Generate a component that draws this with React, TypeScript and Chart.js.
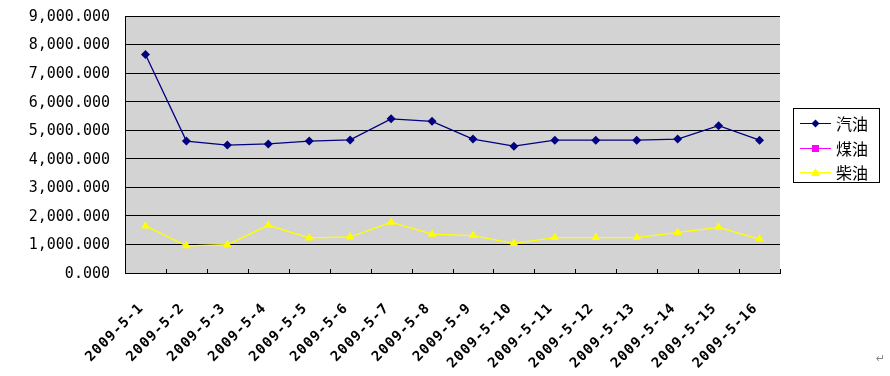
import React, { useEffect, useRef } from "react";
import { Chart, registerables } from "chart.js";

Chart.register(...registerables);

const categories = [
  "2009-5-1", "2009-5-2", "2009-5-3", "2009-5-4", "2009-5-5", "2009-5-6",
  "2009-5-7", "2009-5-8", "2009-5-9", "2009-5-10", "2009-5-11", "2009-5-12",
  "2009-5-13", "2009-5-14", "2009-5-15", "2009-5-16",
];
const gasoline = [7650, 4620, 4480, 4520, 4620, 4660, 5400, 5310, 4690, 4440, 4650, 4650, 4650, 4690, 5160, 4650];
const kerosene: (number | null)[] = [null, null, null, null, null, null, null, null, null, null, null, null, null, null, null, null];
const diesel = [1650, 950, 990, 1670, 1230, 1260, 1780, 1360, 1310, 1040, 1240, 1240, 1240, 1420, 1600, 1190];
const seriesNames = ["汽油", "煤油", "柴油"];
const yMin = 0;
const yMax = 9000;
const yStep = 1000;

const colors = ["#000080", "#FF00FF", "#FFFF00"];
const markers = ["rectRot", "rect", "triangle"];

const fmt = (v: number) =>
  v.toLocaleString("en-US", { minimumFractionDigits: 3, maximumFractionDigits: 3 });

const bgPlugin = {
  id: "plotBg",
  beforeDraw(chart: any) {
    const { ctx, chartArea } = chart;
    ctx.save();
    ctx.fillStyle = "#d3d3d3";
    ctx.fillRect(chartArea.left, chartArea.top, chartArea.right - chartArea.left, chartArea.bottom - chartArea.top);
    ctx.restore();
  },
  afterDraw(chart: any) {
    const { ctx, chartArea } = chart;
    const xs = chart.scales.x;
    const ys = chart.scales.y;
    const n = categories.length;
    const w = (chartArea.right - chartArea.left) / n;
    ctx.save();
    ctx.strokeStyle = "#000";
    ctx.lineWidth = 1;
    ctx.beginPath();
    for (let i = 1; i <= n; i++) {
      const x = Math.round(chartArea.left + i * w) + 0.5;
      ctx.moveTo(x, chartArea.bottom);
      ctx.lineTo(x, chartArea.bottom - 4);
    }
    ctx.stroke();

    // y labels
    ctx.fillStyle = "#000";
    ctx.font = '15px "DejaVu Sans Mono"';
    ctx.textAlign = "right";
    ctx.textBaseline = "middle";
    ys.ticks.forEach((t: any) => {
      const y = ys.getPixelForValue(t.value);
      ctx.fillText(fmt(t.value), 110, y + 1);
    });

    // x labels
    ctx.font = 'bold 14px "DejaVu Sans Mono"';
    try { (ctx as any).letterSpacing = "1px"; } catch (e) {}
    categories.forEach((lab, i) => {
      const px = xs.getPixelForValue(i);
      ctx.save();
      ctx.translate(px - 4, 306);
      ctx.rotate(-Math.PI / 4);
      ctx.textAlign = "right";
      ctx.textBaseline = "middle";
      ctx.fillText(lab, 0, 0);
      ctx.restore();
    });
    try { (ctx as any).letterSpacing = "0px"; } catch (e) {}

    // legend
    const bx = 793.5, by = 108.5, bw = 86, bh = 74;
    ctx.fillStyle = "#fff";
    ctx.fillRect(bx, by, bw, bh);
    ctx.strokeStyle = "#000";
    ctx.strokeRect(bx, by, bw, bh);
    const rows = [123, 148, 172];
    seriesNames.forEach((name, i) => {
      const y = rows[i];
      ctx.strokeStyle = colors[i];
      ctx.lineWidth = 1;
      ctx.beginPath();
      ctx.moveTo(800, y + 0.5);
      ctx.lineTo(831, y + 0.5);
      ctx.stroke();
      ctx.fillStyle = colors[i];
      ctx.beginPath();
      const cx = 815.5, cy = y + 0.5;
      if (i === 0) {
        ctx.moveTo(cx, cy - 4);
        ctx.lineTo(cx + 4, cy);
        ctx.lineTo(cx, cy + 4);
        ctx.lineTo(cx - 4, cy);
      } else if (i === 1) {
        ctx.rect(cx - 3.5, cy - 3.5, 7, 7);
      } else {
        ctx.moveTo(cx, cy - 4.5);
        ctx.lineTo(cx + 4.5, cy + 3.5);
        ctx.lineTo(cx - 4.5, cy + 3.5);
      }
      ctx.closePath();
      ctx.fill();
      ctx.fillStyle = "#000";
      ctx.font = '16px "Noto Sans CJK SC"';
      ctx.textBaseline = "middle";
      ctx.textAlign = "left";
      ctx.fillText(name, 836, y + 1);
    });
    ctx.restore();
  },
};

export default function App() {
  const ref = useRef<HTMLCanvasElement>(null);
  useEffect(() => {
    if (!ref.current) return;
    const chart = new Chart(ref.current, {
      type: "line",
      data: {
        labels: categories,
        datasets: [gasoline, kerosene, diesel].map((d, i) => ({
          label: seriesNames[i],
          data: d,
          borderColor: colors[i],
          backgroundColor: colors[i],
          borderWidth: 1.3,
          pointStyle: markers[i] as any,
          pointRadius: i === 2 ? 5 : 4.5,
          pointBorderWidth: 0,
          pointBackgroundColor: colors[i],
          tension: 0,
          spanGaps: false,
        })),
      },
      options: {
        responsive: false,
        animation: false,
        layout: { padding: { left: 0, top: 16, right: 110, bottom: 0 } },
        plugins: { legend: { display: false }, tooltip: { enabled: false } },
        scales: {
          x: {
            offset: true,
            grid: { display: false },
            border: { display: true, color: "#000", width: 1 },
            ticks: { display: false, autoSkip: false },
            afterFit(scale: any) {
              scale.height = 103;
              scale.paddingLeft = 0;
              scale.paddingRight = 0;
            },
          },
          y: {
            min: yMin,
            max: yMax,
            grid: { color: "#000", drawTicks: false, lineWidth: 1 },
            border: { display: true, color: "#000", width: 1 },
            ticks: { display: false, stepSize: yStep },
            afterFit(scale: any) {
              scale.width = 125;
              scale.paddingTop = 0;
              scale.paddingBottom = 0;
            },
          },
        },
      },
      plugins: [bgPlugin],
    });
    return () => chart.destroy();
  }, []);
  return (
    <div style={{ position: "fixed", left: 0, top: 0, width: 890, height: 376, background: "#fff" }}>
      <canvas ref={ref} width={890} height={376} style={{ display: "block" }} />
      <span style={{ position: "absolute", left: 876, top: 352, fontSize: 11, color: "#888", fontFamily: "DejaVu Sans" }}>↵</span>
    </div>
  );
}
